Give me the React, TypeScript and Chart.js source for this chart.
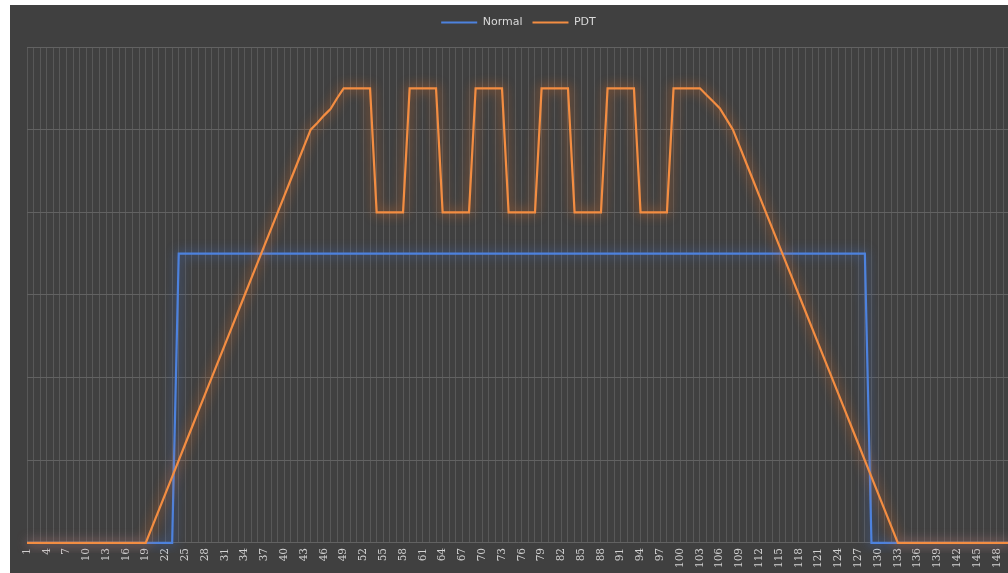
import React, { useEffect, useRef } from "react";
import { Chart, registerables } from "chart.js";

Chart.register(...registerables);

const categories = [
  "1","2","3","4","5","6","7","8","9","10",
  "11","12","13","14","15","16","17","18","19","20",
  "21","22","23","24","25","26","27","28","29","30",
  "31","32","33","34","35","36","37","38","39","40",
  "41","42","43","44","45","46","47","48","49","50",
  "51","52","53","54","55","56","57","58","59","60",
  "61","62","63","64","65","66","67","68","69","70",
  "71","72","73","74","75","76","77","78","79","80",
  "81","82","83","84","85","86","87","88","89","90",
  "91","92","93","94","95","96","97","98","99","100",
  "101","102","103","104","105","106","107","108","109","110",
  "111","112","113","114","115","116","117","118","119","120",
  "121","122","123","124","125","126","127","128","129","130",
  "131","132","133","134","135","136","137","138","139","140",
  "141","142","143","144","145","146","147","148","149","150",
];

const normalValues = [
  0, 0, 0, 0, 0, 0, 0, 0, 0, 0,
  0, 0, 0, 0, 0, 0, 0, 0, 0, 0,
  0, 0, 0, 3.5, 3.5, 3.5, 3.5, 3.5, 3.5, 3.5,
  3.5, 3.5, 3.5, 3.5, 3.5, 3.5, 3.5, 3.5, 3.5, 3.5,
  3.5, 3.5, 3.5, 3.5, 3.5, 3.5, 3.5, 3.5, 3.5, 3.5,
  3.5, 3.5, 3.5, 3.5, 3.5, 3.5, 3.5, 3.5, 3.5, 3.5,
  3.5, 3.5, 3.5, 3.5, 3.5, 3.5, 3.5, 3.5, 3.5, 3.5,
  3.5, 3.5, 3.5, 3.5, 3.5, 3.5, 3.5, 3.5, 3.5, 3.5,
  3.5, 3.5, 3.5, 3.5, 3.5, 3.5, 3.5, 3.5, 3.5, 3.5,
  3.5, 3.5, 3.5, 3.5, 3.5, 3.5, 3.5, 3.5, 3.5, 3.5,
  3.5, 3.5, 3.5, 3.5, 3.5, 3.5, 3.5, 3.5, 3.5, 3.5,
  3.5, 3.5, 3.5, 3.5, 3.5, 3.5, 3.5, 3.5, 3.5, 3.5,
  3.5, 3.5, 3.5, 3.5, 3.5, 3.5, 3.5, 3.5, 0, 0,
  0, 0, 0, 0, 0, 0, 0, 0, 0, 0,
  0, 0, 0, 0, 0, 0, 0, 0, 0, 0,
];

const pdtValues = [
  0, 0, 0, 0, 0, 0, 0, 0, 0, 0,
  0, 0, 0, 0, 0, 0, 0, 0, 0, 0.2,
  0.4, 0.6, 0.8, 1.0, 1.2, 1.4, 1.6, 1.8, 2.0, 2.2,
  2.4, 2.6, 2.8, 3.0, 3.2, 3.4, 3.6, 3.8, 4.0, 4.2,
  4.4, 4.6, 4.8, 5.0, 5.08, 5.17, 5.25, 5.38, 5.5, 5.5,
  5.5, 5.5, 5.5, 4, 4, 4, 4, 4, 5.5, 5.5,
  5.5, 5.5, 5.5, 4, 4, 4, 4, 4, 5.5, 5.5,
  5.5, 5.5, 5.5, 4, 4, 4, 4, 4, 5.5, 5.5,
  5.5, 5.5, 5.5, 4, 4, 4, 4, 4, 5.5, 5.5,
  5.5, 5.5, 5.5, 4, 4, 4, 4, 4, 5.5, 5.5,
  5.5, 5.5, 5.5, 5.42, 5.34, 5.26, 5.13, 5.0, 4.8, 4.6,
  4.4, 4.2, 4.0, 3.8, 3.6, 3.4, 3.2, 3.0, 2.8, 2.6,
  2.4, 2.2, 2.0, 1.8, 1.6, 1.4, 1.2, 1.0, 0.8, 0.6,
  0.4, 0.2, 0, 0, 0, 0, 0, 0, 0, 0,
  0, 0, 0, 0, 0, 0, 0, 0, 0, 0,
];

const seriesNames = ["Normal", "PDT"];
const yMin = 0;
const yMax = 6;
const yStep = 1;

const glowPlugin = {
  id: "glow",
  beforeDatasetDraw(chart: any, args: any) {
    const ctx = chart.ctx;
    ctx.save();
    const ds: any = chart.data.datasets[args.index];
    ctx.shadowColor = ds.glowColor;
    ctx.shadowBlur = 12;
    ctx.shadowOffsetX = 0;
    ctx.shadowOffsetY = 0;
  },
  afterDatasetDraw(chart: any) {
    chart.ctx.restore();
  },
};

const legendSpacing = {
  id: "legendSpacing",
  beforeInit(chart: any) {
    const orig = chart.legend.fit;
    chart.legend.fit = function () {
      orig.call(this);
      this.height += 9;
    };
  },
};

export default function App() {
  const ref = useRef<HTMLCanvasElement>(null);
  useEffect(() => {
    document.body.style.margin = "0";
    const chart = new Chart(ref.current as HTMLCanvasElement, {
      type: "line",
      data: {
        labels: categories,
        datasets: [
          {
            label: seriesNames[0],
            data: normalValues,
            borderColor: "#4d82de",
            backgroundColor: "#4d82de",
            glowColor: "rgba(70,120,220,0.95)",
            borderWidth: 2.2,
            pointRadius: 0,
            tension: 0,
            order: 1,
            clip: 10,
          } as any,
          {
            label: seriesNames[1],
            data: pdtValues,
            borderColor: "#f38d42",
            backgroundColor: "#f38d42",
            glowColor: "rgba(240,115,35,1)",
            borderWidth: 2.2,
            pointRadius: 0,
            tension: 0,
            order: 0,
            clip: 10,
          } as any,
        ],
      },
      options: {
        responsive: false,
        animation: false,
        layout: { padding: { left: 17, right: 20, top: 2, bottom: 0 } },
        plugins: {
          legend: {
            position: "top",
            labels: {
              usePointStyle: true,
              pointStyle: "line",
              pointStyleWidth: 36,
              color: "#d9d9d9",
              font: { family: "DejaVu Sans", size: 11 },
              padding: 10,
              sort: (a: any, b: any) => a.datasetIndex - b.datasetIndex,
            },
          },
          tooltip: { enabled: false },
        },
        scales: {
          x: {
            grid: { color: "#585858", lineWidth: 1, drawTicks: false },
            border: { display: false },
            ticks: {
              autoSkip: false,
              maxRotation: 90,
              minRotation: 90,
              padding: 5,
              color: "#d2d2d2",
              font: { family: "DejaVu Serif", size: 10.5 },
              callback: (_v: any, i: number) => (i % 3 === 0 ? categories[i] : ""),
            },
          },
          y: {
            min: yMin,
            max: yMax,
            ticks: { display: false, stepSize: yStep },
            grid: { color: "#626262", lineWidth: 1, drawTicks: false },
            border: { display: false },
          },
        },
      },
      plugins: [glowPlugin, legendSpacing],
    } as any);
    return () => chart.destroy();
  }, []);
  return (
    <div style={{ position: "relative", width: 1008, height: 573, background: "#ffffff", overflow: "hidden" }}>
      <div style={{ position: "absolute", left: 10, top: 5, width: 1020, height: 568, background: "#404040" }}>
        <canvas ref={ref} width={1020} height={568} />
      </div>
    </div>
  );
}
